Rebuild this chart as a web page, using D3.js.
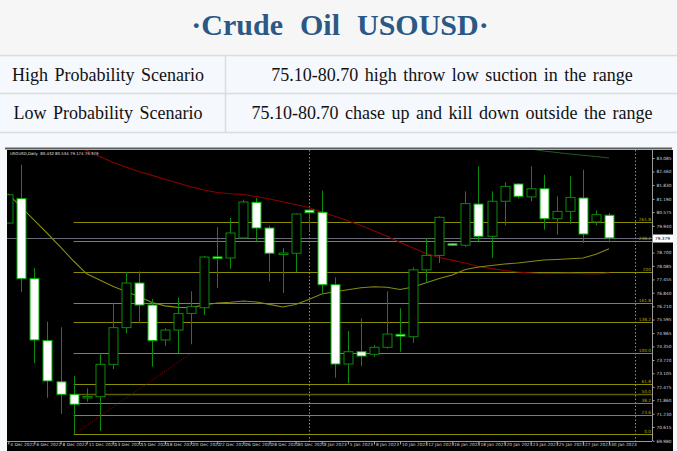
<!DOCTYPE html>
<html><head><meta charset="utf-8">
<script src="https://cdn.jsdelivr.net/npm/d3@7"></script>
<style>html,body{margin:0;padding:0;background:#f6f8fb;overflow:hidden;} svg{display:block;}</style>
</head><body><svg id="c" width="677" height="451"></svg>
<script>
// ---------------- data ----------------
const title = "·Crude  Oil  USOUSD·";
const scenarioNames = ["High Probability Scenario", "Low Probability Scenario"];
const scenarioTexts = ["75.10-80.70 high throw low suction in the range",
                       "75.10-80.70 chase up and kill down outside the range"];
const symbolInfo = "USOUSD,Daily  80.432 80.534 79.174 79.379";

const dates = ["4 Dec 2022","5 Dec 2022","6 Dec 2022","7 Dec 2022","8 Dec 2022","9 Dec 2022",
  "11 Dec 2022","12 Dec 2022","13 Dec 2022","14 Dec 2022","15 Dec 2022","16 Dec 2022",
  "18 Dec 2022","19 Dec 2022","20 Dec 2022","21 Dec 2022","22 Dec 2022","23 Dec 2022",
  "26 Dec 2022","27 Dec 2022","28 Dec 2022","29 Dec 2022","30 Dec 2022","2 Jan 2023",
  "3 Jan 2023","4 Jan 2023","5 Jan 2023","6 Jan 2023","8 Jan 2023","9 Jan 2023",
  "10 Jan 2023","11 Jan 2023","12 Jan 2023","13 Jan 2023","16 Jan 2023","17 Jan 2023",
  "18 Jan 2023","19 Jan 2023","20 Jan 2023","22 Jan 2023","23 Jan 2023","24 Jan 2023",
  "25 Jan 2023","26 Jan 2023","27 Jan 2023","29 Jan 2023","30 Jan 2023"];

const open  = [80.07,81.20,77.49,74.62,72.71,72.13,72.00,72.02,73.52,75.22,77.29,76.27,74.65,75.11,75.88,76.145,78.50,78.45,79.38,81.03,79.84,78.66,78.67,80.67,80.57,77.21,73.535,74.105,73.985,74.31,74.91,74.80,77.90,78.57,79.11,79.04,80.95,79.455,81.08,81.88,81.28,81.66,80.27,80.61,81.23,80.12,80.432];
const high  = [81.40,82.77,77.985,75.50,75.24,72.98,72.41,74.03,76.35,77.80,77.83,76.55,75.20,76.61,76.905,78.55,79.88,80.30,81.15,81.23,79.95,78.91,80.52,80.72,81.57,77.555,75.06,75.65,74.415,76.905,76.12,78.02,79.38,80.38,79.15,81.54,82.70,81.54,81.96,81.925,82.70,82.31,81.31,82.24,82.54,80.64,80.534];
const low   = [80.05,76.87,73.57,71.97,71.22,70.275,71.79,70.43,73.30,74.96,75.42,73.41,74.38,74.03,74.45,75.81,77.06,77.95,79.345,79.22,77.37,76.83,77.80,79.69,76.78,72.90,72.64,73.44,73.875,74.25,74.105,74.52,77.29,78.22,79.00,78.96,79.22,78.45,79.965,81.20,81.08,79.76,79.53,80.025,79.145,79.965,79.174];
const close = [81.38,77.49,74.65,72.75,72.13,71.67,72.03,73.52,75.22,77.29,76.27,74.62,75.11,75.88,76.19,78.495,78.44,79.61,81.045,79.84,78.67,78.68,80.49,80.55,77.21,73.535,74.105,73.905,74.31,74.925,74.83,77.90,78.57,80.335,79.04,80.97,79.455,81.08,81.77,81.31,81.66,80.27,80.61,81.26,79.56,80.46,79.379];

const maOlive = [81.42,80.80,80.19,79.585,78.95,78.31,77.715,77.43,77.14,76.895,76.67,76.385,76.23,76.16,76.15,76.27,76.36,76.395,76.455,76.41,76.30,76.18,76.29,76.525,76.78,76.885,76.98,77.07,77.12,77.095,76.99,77.105,77.305,77.50,77.66,77.915,78.03,78.10,78.17,78.22,78.29,78.355,78.38,78.415,78.45,78.62,78.88];
const maRed = [null,null,null,null,null,83.71,83.43,83.155,82.885,82.67,82.46,82.28,82.10,81.925,81.74,81.60,81.485,81.43,81.39,81.30,81.185,81.055,80.93,80.79,80.58,80.38,80.18,79.955,79.715,79.455,79.17,78.91,78.66,78.47,78.34,78.22,78.055,77.955,77.87,77.80,77.755,77.72,77.73,77.74,77.72,77.71,77.755];
const maGreen = [null,null,null,null,null,null,null,null,null,null,null,null,null,null,null,null,null,null,null,null,null,null,null,null,null,null,null,null,null,null,null,null,null,null,null,null,null,null,null,null,83.50,83.41,83.34,83.27,83.21,83.155,83.085];

const fibLevels = [0, 23.6, 38.2, 50, 61.8, 100, 138.2, 161.8, 200, 238.2, 261.8];
const fibLabels = ["0.0","23.6","38.2","50.0","61.8","100.0","138.2","161.8","200","238.2","261.8"];
const fibLow = 70.275, fibHigh = 74.03;
const fibStartBar = 5, trendEndBar = 14;

const priceTicks = [83.085,82.460,81.830,81.190,80.575,79.940,78.700,78.085,77.455,76.840,76.210,75.595,74.965,74.350,73.720,73.105,72.475,71.860,71.230,70.615,69.980];
const lastPrice = 79.379;
const separatorBars = [23, 48];

// ---------------- drawing ----------------
const svg = d3.select("#c");
const W = 677, H = 451;

// header background
svg.append("rect").attr("x",0).attr("y",0).attr("width",W).attr("height",55).attr("fill","#f6f6f6");
svg.append("rect").attr("x",0).attr("y",55).attr("width",W).attr("height",93).attr("fill","#f5f8fd");

svg.append("text").attr("x",340).attr("y",35).attr("text-anchor","middle")
  .attr("font-family","'Liberation Serif', serif").attr("font-weight","bold")
  .attr("font-size",30).attr("fill","#2b5884").attr("word-spacing","1px")
  .style("white-space","pre").text(title);

[55, 93, 132].forEach(yy => svg.append("line").attr("x1",0).attr("x2",W).attr("y1",yy+0.5).attr("y2",yy+0.5)
  .attr("stroke","#dcdcdc").attr("stroke-width",1.5));
svg.append("line").attr("x1",225.5).attr("x2",225.5).attr("y1",55).attr("y2",132).attr("stroke","#dcdcdc").attr("stroke-width",1.5);

const rowsY = [81, 119];
scenarioNames.forEach((s,i) => {
  svg.append("text").attr("x",108).attr("y",rowsY[i]).attr("text-anchor","middle")
    .attr("font-family","'Liberation Serif', serif").attr("font-size",18).attr("fill","#111")
    .attr("word-spacing","2px").text(s);
  svg.append("text").attr("x",452).attr("y",rowsY[i]).attr("text-anchor","middle")
    .attr("font-family","'Liberation Serif', serif").attr("font-size",18).attr("fill","#111")
    .attr("word-spacing","2px").text(scenarioTexts[i]);
});

svg.append("line").attr("x1",5).attr("x2",672).attr("y1",148.5).attr("y2",148.5).attr("stroke","#5c5c5c").attr("stroke-width",2);

// chart area
svg.append("rect").attr("x",7).attr("y",150).attr("width",666).attr("height",301).attr("fill","#000");

const plotL = 7, plotR = 652, plotT = 150, plotB = 441;
const x = d3.scaleLinear().domain([0, 48]).range([8.3, 8.3 + 48*13.06]);
const y = d3.scaleLinear().domain([69.980, 83.085]).range([440.7, 158]);

svg.append("defs").append("clipPath").attr("id","clip").append("rect")
  .attr("x",plotL).attr("y",plotT).attr("width",plotR-plotL).attr("height",plotB-plotT);
const g = svg.append("g").attr("clip-path","url(#clip)");

// fib levels
const fibPrice = l => fibLow + (fibHigh - fibLow) * l / 100;
fibLevels.forEach((l,i) => {
  const yy = Math.round(y(fibPrice(l))) + 0.5;
  g.append("line").attr("x1",x(fibStartBar)).attr("x2",plotR).attr("y1",yy).attr("y2",yy)
    .attr("stroke", l === 50 ? "#5e5e00" : "#8c8c00").attr("stroke-width", l === 50 ? 1.6 : 1.1);
  svg.append("text").attr("x",plotR-1).attr("y",yy-1.5).attr("text-anchor","end")
    .attr("font-family","'DejaVu Sans', sans-serif").attr("font-size",4.3).attr("fill","#a8a800").text(fibLabels[i]);
});

// last price line
const lpY = Math.round(y(lastPrice)) + 0.5;
g.append("line").attr("x1",plotL).attr("x2",plotR).attr("y1",lpY).attr("y2",lpY).attr("stroke","#6a6a78").attr("stroke-width",1);

// separators
separatorBars.forEach(b => g.append("line").attr("x1",Math.round(x(b))+0.5).attr("x2",Math.round(x(b))+0.5)
  .attr("y1",plotT).attr("y2",plotB).attr("stroke","#8a8a8a").attr("stroke-dasharray","1.5,2").attr("stroke-width",1));

// moving averages
const mkLine = arr => d3.line().defined(d => d != null).x((d,i) => x(i)).y(d => y(d))(arr);
g.append("path").attr("d", mkLine(maRed)).attr("fill","none").attr("stroke","#8b0000").attr("stroke-width",1.1);
g.append("path").attr("d", mkLine(maGreen)).attr("fill","none").attr("stroke","#1f5a1f").attr("stroke-width",1.1);
g.append("path").attr("d", mkLine(maOlive)).attr("fill","none").attr("stroke","#8a8a10").attr("stroke-width",1.1);

// fib trendline
g.append("line").attr("x1",x(fibStartBar)).attr("y1",y(fibLow)).attr("x2",x(trendEndBar)).attr("y2",y(fibHigh))
  .attr("stroke","#a00000").attr("stroke-dasharray","1,1.5").attr("stroke-width",1);

// candles
const bw = 9;
open.forEach((o,i) => {
  const cx = Math.round(x(i)) + 0.5;
  const c = close[i];
  g.append("line").attr("x1",cx).attr("x2",cx).attr("y1",y(high[i])).attr("y2",y(low[i]))
    .attr("stroke","#0c8a0c").attr("stroke-width",1);
  const top = y(Math.max(o,c)), bot = y(Math.min(o,c));
  const bull = c >= o;
  g.append("rect").attr("x",cx - bw/2).attr("y",top).attr("width",bw).attr("height",Math.max(bot-top,1.5))
    .attr("fill", bull ? "#000" : "#fff").attr("stroke", bull ? "#0a8a0a" : "#00b400").attr("stroke-width",1);
});

// axes frame
svg.append("line").attr("x1",plotR+0.5).attr("x2",plotR+0.5).attr("y1",plotT).attr("y2",plotB).attr("stroke","#9a9a9a");
svg.append("line").attr("x1",plotL).attr("x2",plotR).attr("y1",plotB+0.5).attr("y2",plotB+0.5).attr("stroke","#9a9a9a");

const yAxis = d3.axisRight(y).tickValues(priceTicks).tickFormat(d3.format(".3f")).tickSize(2).tickPadding(2);
const ya = svg.append("g").attr("transform",`translate(${plotR+0.5},0)`).call(yAxis);
ya.select(".domain").remove();
ya.selectAll("line").attr("stroke","#aaa");
ya.selectAll("text").attr("fill","#d4d4d4").attr("font-size",4.3).attr("font-family","'DejaVu Sans', sans-serif");

const xAxis = d3.axisBottom(x).tickValues(d3.range(0, 47, 2)).tickFormat(i => dates[i]).tickSize(3).tickPadding(1);
const xa = svg.append("g").attr("transform",`translate(0,${plotB+0.5})`).call(xAxis);
xa.select(".domain").remove();
xa.selectAll("line").attr("stroke","#aaa");
xa.selectAll("text").attr("fill","#d4d4d4").attr("font-size",4.3).attr("font-family","'DejaVu Sans', sans-serif")
  .attr("text-anchor","start").attr("dx",1.5).attr("dy","0.2em");

// current price box
svg.append("rect").attr("x",plotR+1).attr("y",lpY-4).attr("width",20).attr("height",8).attr("fill","#fff");
svg.append("text").attr("x",plotR+3).attr("y",lpY+1.5).attr("font-size",4.3).attr("font-family","'DejaVu Sans', sans-serif")
  .attr("fill","#000").text(d3.format(".3f")(lastPrice));

// symbol info
svg.append("text").attr("x",10).attr("y",155).attr("font-size",3.9).attr("font-family","'DejaVu Sans', sans-serif")
  .attr("fill","#e0e0e0").style("white-space","pre").text(symbolInfo);
</script>
</body></html>
